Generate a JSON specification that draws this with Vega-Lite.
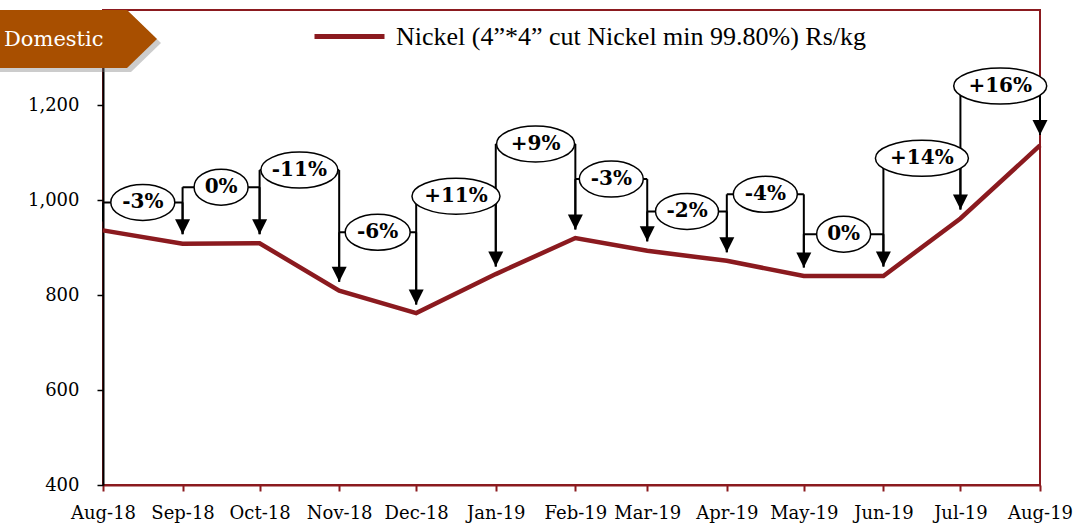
{
  "$schema": "https://vega.github.io/schema/vega-lite/v6.json",
  "width": 937,
  "height": 475,
  "autosize": "none",
  "padding": {"left": 103, "top": 10, "right": 35, "bottom": 38},
  "background": "white",
  "config": {
    "view": {"stroke": "#8B1A1F", "strokeWidth": 2},
    "font": "DejaVu Serif",
    "axisX": {"domainColor": "#8B1A1F", "domainWidth": 2, "tickColor": "#8B1A1F", "tickWidth": 2, "tickSize": 6, "labelFont": "DejaVu Serif", "labelFontSize": 18, "labelColor": "#000000", "labelPadding": 13, "grid": false},
    "axisY": {"domainColor": "#000000", "domainWidth": 2, "tickColor": "#000000", "tickWidth": 1.5, "tickSize": 6, "labelFont": "DejaVu Serif", "labelFontSize": 18, "labelColor": "#000000", "labelPadding": 18, "grid": false}
  },
  "datasets": {
    "prices": [
      {"month": "2018-08-01T00:00:00", "price": 936, "series": "Nickel (4”*4” cut Nickel min 99.80%) Rs/kg"},
      {"month": "2018-09-01T00:00:00", "price": 908, "series": "Nickel (4”*4” cut Nickel min 99.80%) Rs/kg"},
      {"month": "2018-10-01T00:00:00", "price": 909, "series": "Nickel (4”*4” cut Nickel min 99.80%) Rs/kg"},
      {"month": "2018-11-01T00:00:00", "price": 809, "series": "Nickel (4”*4” cut Nickel min 99.80%) Rs/kg"},
      {"month": "2018-12-01T00:00:00", "price": 762, "series": "Nickel (4”*4” cut Nickel min 99.80%) Rs/kg"},
      {"month": "2019-01-01T00:00:00", "price": 844, "series": "Nickel (4”*4” cut Nickel min 99.80%) Rs/kg"},
      {"month": "2019-02-01T00:00:00", "price": 920, "series": "Nickel (4”*4” cut Nickel min 99.80%) Rs/kg"},
      {"month": "2019-03-01T00:00:00", "price": 893, "series": "Nickel (4”*4” cut Nickel min 99.80%) Rs/kg"},
      {"month": "2019-04-01T00:00:00", "price": 872, "series": "Nickel (4”*4” cut Nickel min 99.80%) Rs/kg"},
      {"month": "2019-05-01T00:00:00", "price": 840, "series": "Nickel (4”*4” cut Nickel min 99.80%) Rs/kg"},
      {"month": "2019-06-01T00:00:00", "price": 840, "series": "Nickel (4”*4” cut Nickel min 99.80%) Rs/kg"},
      {"month": "2019-07-01T00:00:00", "price": 961, "series": "Nickel (4”*4” cut Nickel min 99.80%) Rs/kg"},
      {"month": "2019-08-01T00:00:00", "price": 1115, "series": "Nickel (4”*4” cut Nickel min 99.80%) Rs/kg"}
    ],
    "ann": [
      {"start": "2018-08-01T00:00:00", "mid": "2018-08-16T12:00:00", "end": "2018-09-01T00:00:00", "level": 995, "from": 955, "to": 928, "label": "-3%"},
      {"start": "2018-09-01T00:00:00", "mid": "2018-09-16T00:00:00", "end": "2018-10-01T00:00:00", "level": 1027, "from": 928, "to": 928, "label": "0%"},
      {"start": "2018-10-01T00:00:00", "mid": "2018-10-16T12:00:00", "end": "2018-11-01T00:00:00", "level": 1063, "from": 928, "to": 828, "label": "-11%"},
      {"start": "2018-11-01T00:00:00", "mid": "2018-11-16T00:00:00", "end": "2018-12-01T00:00:00", "level": 932, "from": 828, "to": 780, "label": "-6%"},
      {"start": "2018-12-01T00:00:00", "mid": "2018-12-16T12:00:00", "end": "2019-01-01T00:00:00", "level": 1008, "from": 780, "to": 860, "label": "+11%"},
      {"start": "2019-01-01T00:00:00", "mid": "2019-01-16T12:00:00", "end": "2019-02-01T00:00:00", "level": 1118, "from": 860, "to": 938, "label": "+9%"},
      {"start": "2019-02-01T00:00:00", "mid": "2019-02-15T00:00:00", "end": "2019-03-01T00:00:00", "level": 1044, "from": 938, "to": 913, "label": "-3%"},
      {"start": "2019-03-01T00:00:00", "mid": "2019-03-16T12:00:00", "end": "2019-04-01T00:00:00", "level": 976, "from": 913, "to": 890, "label": "-2%"},
      {"start": "2019-04-01T00:00:00", "mid": "2019-04-16T00:00:00", "end": "2019-05-01T00:00:00", "level": 1012, "from": 890, "to": 858, "label": "-4%"},
      {"start": "2019-05-01T00:00:00", "mid": "2019-05-16T12:00:00", "end": "2019-06-01T00:00:00", "level": 928, "from": 858, "to": 860, "label": "0%"},
      {"start": "2019-06-01T00:00:00", "mid": "2019-06-16T00:00:00", "end": "2019-07-01T00:00:00", "level": 1088, "from": 860, "to": 980, "label": "+14%"},
      {"start": "2019-07-01T00:00:00", "mid": "2019-07-16T12:00:00", "end": "2019-08-01T00:00:00", "level": 1240, "from": 980, "to": 1137, "label": "+16%"}
    ],
    "tag": [
      {"date": "2018-08-01T00:00:00", "value": 1400, "label": "Domestic"}
    ]
  },
  "layer": [
    {
      "data": {"name": "prices"},
      "mark": {"type": "line", "strokeWidth": 4.5, "strokeJoin": "miter"},
      "encoding": {
        "x": {"field": "month", "type": "temporal", "title": null,
          "scale": {"domain": [{"year": 2018, "month": 8, "date": 1}, {"year": 2019, "month": 8, "date": 1}]},
          "axis": {"format": "%b-%y", "tickCount": {"interval": "month", "step": 1}, "labelFlush": false, "labelOverlap": false}},
        "y": {"field": "price", "type": "quantitative", "title": null,
          "scale": {"domain": [400, 1400], "nice": false, "zero": false},
          "axis": {"values": [400, 600, 800, 1000, 1200], "format": ",d"}},
        "color": {"field": "series", "type": "nominal", "scale": {"range": ["#8B1A1F"]},
          "legend": {"title": null, "orient": "none", "legendX": 209, "legendY": -11, "padding": 0, "symbolType": "stroke", "symbolSize": 4900, "symbolStrokeWidth": 5, "labelFont": "Liberation Serif", "labelFontSize": 26, "labelColor": "#000000", "labelOffset": 9, "labelLimit": 0}}
      }
    },
    {
      "data": {"name": "tag"},
      "mark": {"type": "point", "filled": true, "size": 4, "opacity": 0.4, "color": "#808080", "shape": "M-103,4L28,4L58,33L28,62L-103,62Z"},
      "encoding": {
        "x": {"field": "date", "type": "temporal", "title": null},
        "y": {"field": "value", "type": "quantitative", "title": null}
      }
    },
    {
      "data": {"name": "tag"},
      "mark": {"type": "point", "filled": true, "size": 4, "opacity": 1, "color": "#A84F00", "shape": "M-103,0L24,0L54,29L24,58L-103,58Z"},
      "encoding": {
        "x": {"field": "date", "type": "temporal", "title": null},
        "y": {"field": "value", "type": "quantitative", "title": null}
      }
    },
    {
      "data": {"name": "tag"},
      "mark": {"type": "text", "align": "left", "baseline": "middle", "dx": -99, "dy": 30, "font": "DejaVu Serif", "fontSize": 21, "color": "#FFFFFF"},
      "encoding": {
        "x": {"field": "date", "type": "temporal", "title": null},
        "y": {"field": "value", "type": "quantitative", "title": null},
        "text": {"field": "label"}
      }
    },
    {
      "data": {"name": "ann"},
      "mark": {"type": "rule", "color": "#000000", "strokeWidth": 2},
      "encoding": {
        "x": {"field": "start", "type": "temporal", "title": null},
        "y": {"field": "level", "type": "quantitative", "title": null},
        "y2": {"field": "from"}
      }
    },
    {
      "data": {"name": "ann"},
      "mark": {"type": "rule", "color": "#000000", "strokeWidth": 2},
      "encoding": {
        "x": {"field": "start", "type": "temporal", "title": null},
        "x2": {"field": "end"},
        "y": {"field": "level", "type": "quantitative", "title": null}
      }
    },
    {
      "data": {"name": "ann"},
      "mark": {"type": "rule", "color": "#000000", "strokeWidth": 2},
      "encoding": {
        "x": {"field": "end", "type": "temporal", "title": null},
        "y": {"field": "level", "type": "quantitative", "title": null},
        "y2": {"field": "to"}
      }
    },
    {
      "data": {"name": "ann"},
      "mark": {"type": "point", "filled": true, "size": 4, "opacity": 1, "color": "#000000", "shape": "M-7.5,-15L7.5,-15L0,0Z"},
      "encoding": {
        "x": {"field": "end", "type": "temporal", "title": null},
        "y": {"field": "to", "type": "quantitative", "title": null}
      }
    },
    {
      "data": {"name": "ann"},
      "mark": {"type": "point", "filled": false, "size": 4, "opacity": 1, "fill": "#FFFFFF", "fillOpacity": 1, "stroke": "#000000", "strokeWidth": 1.5},
      "encoding": {
        "x": {"field": "mid", "type": "temporal", "title": null},
        "y": {"field": "level", "type": "quantitative", "title": null},
        "shape": {"field": "label", "type": "nominal", "legend": null,
          "scale": {
            "domain": ["-3%", "0%", "-11%", "-6%", "+11%", "+9%", "-2%", "-4%", "+14%", "+16%"],
            "range": [
              "M-32,0C-32,-9.94,-17.67,-18,0,-18C17.67,-18,32,-9.94,32,0C32,9.94,17.67,18,0,18C-17.67,18,-32,9.94,-32,0Z",
              "M-27,0C-27,-9.94,-14.91,-18,0,-18C14.91,-18,27,-9.94,27,0C27,9.94,14.91,18,0,18C-14.91,18,-27,9.94,-27,0Z",
              "M-38.5,0C-38.5,-9.94,-21.26,-18,0,-18C21.26,-18,38.5,-9.94,38.5,0C38.5,9.94,21.26,18,0,18C-21.26,18,-38.5,9.94,-38.5,0Z",
              "M-32.5,0C-32.5,-9.94,-17.95,-18,0,-18C17.95,-18,32.5,-9.94,32.5,0C32.5,9.94,17.95,18,0,18C-17.95,18,-32.5,9.94,-32.5,0Z",
              "M-44,0C-44,-9.94,-24.3,-18,0,-18C24.3,-18,44,-9.94,44,0C44,9.94,24.3,18,0,18C-24.3,18,-44,9.94,-44,0Z",
              "M-39,0C-39,-9.94,-21.54,-18,0,-18C21.54,-18,39,-9.94,39,0C39,9.94,21.54,18,0,18C-21.54,18,-39,9.94,-39,0Z",
              "M-31.5,0C-31.5,-9.94,-17.4,-18,0,-18C17.4,-18,31.5,-9.94,31.5,0C31.5,9.94,17.4,18,0,18C-17.4,18,-31.5,9.94,-31.5,0Z",
              "M-32,0C-32,-9.94,-17.67,-18,0,-18C17.67,-18,32,-9.94,32,0C32,9.94,17.67,18,0,18C-17.67,18,-32,9.94,-32,0Z",
              "M-46.5,0C-46.5,-9.94,-25.68,-18,0,-18C25.68,-18,46.5,-9.94,46.5,0C46.5,9.94,25.68,18,0,18C-25.68,18,-46.5,9.94,-46.5,0Z",
              "M-46.5,0C-46.5,-9.94,-25.68,-18,0,-18C25.68,-18,46.5,-9.94,46.5,0C46.5,9.94,25.68,18,0,18C-25.68,18,-46.5,9.94,-46.5,0Z"
            ]
          }}
      }
    },
    {
      "data": {"name": "ann"},
      "mark": {"type": "text", "align": "center", "baseline": "middle", "font": "DejaVu Serif", "fontSize": 20, "fontWeight": "bold", "color": "#000000"},
      "encoding": {
        "x": {"field": "mid", "type": "temporal", "title": null},
        "y": {"field": "level", "type": "quantitative", "title": null},
        "text": {"field": "label"}
      }
    }
  ]
}
